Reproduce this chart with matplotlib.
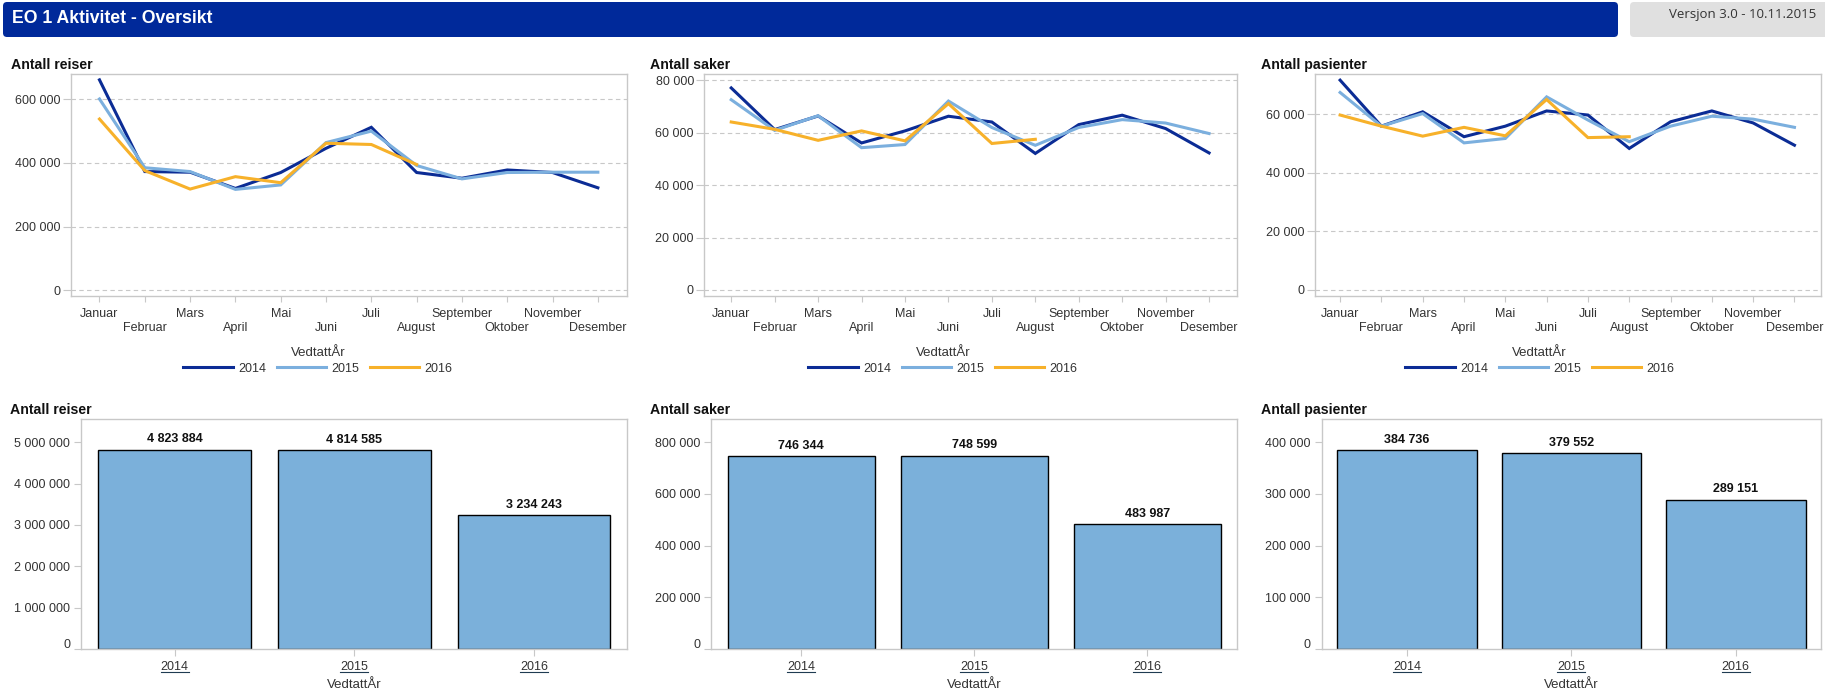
import matplotlib
matplotlib.use("Agg")
import matplotlib.pyplot as plt
from matplotlib.patches import FancyBboxPatch
from matplotlib.lines import Line2D
from matplotlib.transforms import IdentityTransform, ScaledTranslation
from matplotlib.ticker import FuncFormatter

plt.rcParams['font.family'] = ['Liberation Sans', 'DejaVu Sans']

# --- data ---
months = ['Januar', 'Februar', 'Mars', 'April', 'Mai', 'Juni', 'Juli',
          'August', 'September', 'Oktober', 'November', 'Desember']
years = ['2014', '2015', '2016']

reiser_2014 = [661000, 373000, 371000, 320000, 370000, 446000, 512000, 370000, 352000, 378000, 370000, 322000]
reiser_2015 = [601000, 385000, 373000, 317000, 331000, 464000, 500000, 392000, 350000, 370000, 371000, 371000]
reiser_2016 = [538000, 376000, 318000, 357000, 338000, 462000, 458000, 395000]

saker_2014 = [77100, 61200, 66400, 56100, 60700, 66300, 64100, 52100, 63100, 66700, 61600, 52300]
saker_2015 = [72600, 60900, 66500, 54300, 55500, 72100, 62000, 55200, 62000, 65000, 63700, 59700]
saker_2016 = [64100, 61300, 57100, 60700, 56900, 71100, 55900, 57500]

pasienter_2014 = [71600, 55900, 60800, 52300, 55900, 61100, 59700, 48300, 57400, 61100, 57000, 49400]
pasienter_2015 = [67400, 55900, 60200, 50200, 51700, 65900, 58000, 50600, 55900, 59300, 58300, 55500]
pasienter_2016 = [59700, 55900, 52500, 55500, 52600, 65000, 52000, 52300]

reiser_total = [4823884, 4814585, 3234243]
saker_total = [746344, 748599, 483987]
pasienter_total = [384736, 379552, 289151]

# --- style ---
W, H = 1825, 694
C2014, C2015, C2016 = '#0B2C95', '#7BAFDE', '#F7B12A'
BAR = '#7BB0DA'
GRID = '#C8C8C8'
TXT = '#333333'

fig = plt.figure(figsize=(W / 100, H / 100), dpi=100)
fig.patch.set_facecolor('white')


def px_axes(left, top, right, bottom):
    return fig.add_axes([left / W, 1 - bottom / H, (right - left) / W, (bottom - top) / H])


def fmt(v, _pos=None):
    return f"{v:,.0f}".replace(',', ' ')


def style_frame(ax):
    for s in ax.spines.values():
        s.set_color(GRID)
        s.set_linewidth(1)
    ax.set_facecolor('white')


# header
fig.add_artist(FancyBboxPatch((3, H - 37), 1615, 35, boxstyle='round,pad=0,rounding_size=4',
                              transform=IdentityTransform(), facecolor='#00299A', edgecolor='none'))
fig.add_artist(FancyBboxPatch((1630, H - 37), 200, 35, boxstyle='round,pad=0,rounding_size=4',
                              transform=IdentityTransform(), facecolor='#E0E0E0', edgecolor='none'))
fig.text(12 / W, 1 - 22.7 / H, 'EO 1 Aktivitet - Oversikt', color='white', fontsize=12.7,
         fontweight='bold', va='baseline', ha='left')
fig.text(1816 / W, 1 - 18.3 / H, 'Versjon 3.0 - 10.11.2015', color='#333333', fontsize=9.5,
         family=['Open Sans', 'DejaVu Sans'], va='baseline', ha='right')

# --- line charts ---
line_specs = [
    ('Antall reiser', 11, (71.4, 627.3), (reiser_2014, reiser_2015, reiser_2016),
     (-17900, 678500), [0, 200000, 400000, 600000], 317.8),
    ('Antall saker', 650.4, (704.3, 1237.3), (saker_2014, saker_2015, saker_2016),
     (-2300, 82300), [0, 20000, 40000, 60000, 80000], 942.8),
    ('Antall pasienter', 1261, (1314.5, 1821.3), (pasienter_2014, pasienter_2015, pasienter_2016),
     (-2050, 73600), [0, 20000, 40000, 60000], 1539.7),
]

for title, tx, (l, r), series, ylim, yticks, leg_cx in line_specs:
    ax = px_axes(l, 74.3, r, 296)
    style_frame(ax)
    for vals, c, lab in zip(series, (C2014, C2015, C2016), years):
        ax.plot(range(len(vals)), vals, color=c, lw=2.2, label=lab, solid_joinstyle='miter')
    ax.set_xlim(-0.62, 11.65)
    ax.set_ylim(*ylim)
    ax.set_yticks(yticks)
    ax.yaxis.set_major_formatter(FuncFormatter(fmt))
    ax.grid(axis='y', color=GRID, linestyle=(0, (4, 3)), linewidth=0.8)
    ax.set_axisbelow(True)
    ax.set_xticks(range(12))
    ax.set_xticklabels([m if i % 2 == 0 else '\n' + m for i, m in enumerate(months)])
    ax.tick_params(axis='x', length=4.3, width=0.8, color=GRID, pad=4.3, labelsize=9, labelcolor=TXT)
    ax.tick_params(axis='y', length=5.5, width=0.8, color=GRID, pad=2, labelsize=9, labelcolor=TXT)
    fig.text(tx / W, 1 - 69.3 / H, title, fontsize=10.2,
             fontweight='bold', color='#111111', va='baseline', ha='left')
    fig.text(leg_cx / W, 1 - 353 / H, 'VedtattÅr', fontsize=9.5, color=TXT, ha='center', va='center')
    ax.legend(loc='center', bbox_to_anchor=(leg_cx / W, 1 - 368.5 / H), bbox_transform=fig.transFigure,
              ncol=3, frameon=False, borderpad=0, handlelength=3.96, handletextpad=0.4,
              columnspacing=0.85, fontsize=9, labelcolor=TXT)

# --- bar charts ---
bar_specs = [
    ('Antall reiser', 10.5, (81.2, 627.3), reiser_total, 5556000,
     [0, 1000000, 2000000, 3000000, 4000000, 5000000]),
    ('Antall saker', 650.4, (711.2, 1237.3), saker_total, 889000, [0, 200000, 400000, 600000, 800000]),
    ('Antall pasienter', 1261, (1321.5, 1821.3), pasienter_total, 444500, [0, 100000, 200000, 300000, 400000]),
]

bar_axes = []
for title, tx, (l, r), totals, ytop, yticks in bar_specs:
    ax = px_axes(l, 419.3, r, 649)
    style_frame(ax)
    xs = range(len(years))
    ax.bar(xs, totals, width=0.85, color=BAR, edgecolor='black', linewidth=1)
    for x, v in zip(xs, totals):
        ax.annotate(fmt(v), (x, v), xytext=(0, 3), textcoords='offset points', ha='center',
                    va='bottom', fontsize=9, fontweight='bold', color='#111111')
    ax.set_xlim(-0.52, 2.52)
    ax.set_ylim(0, ytop)
    ax.set_yticks(yticks)
    ax.yaxis.set_major_formatter(FuncFormatter(fmt))
    ax.set_xticks(list(xs))
    ax.set_xticklabels(years)
    ax.tick_params(axis='x', length=4.8, width=0.8, color=GRID, pad=3.6, labelsize=9, labelcolor=TXT)
    ax.tick_params(axis='y', length=5, width=0.8, color=GRID, pad=3, labelsize=9, labelcolor=TXT)
    zero = ax.get_yticklabels()[0]
    zero.set_transform(zero.get_transform() + ScaledTranslation(0, 6 / 100, fig.dpi_scale_trans))
    fig.text(tx / W, 1 - 414 / H, title, fontsize=10.2, fontweight='bold', color='#111111',
             va='baseline', ha='left')
    fig.text((l + r) / 2 / W, 1 - 685 / H, 'VedtattÅr', fontsize=9.5, color=TXT, ha='center', va='center')
    bar_axes.append(ax)

# underline the year labels
fig.canvas.draw()
for ax in bar_axes:
    for lbl in ax.get_xticklabels():
        bb = lbl.get_window_extent()
        fig.add_artist(Line2D([bb.x0, bb.x1], [bb.y0 + 0.5, bb.y0 + 0.5], transform=IdentityTransform(),
                              color='#1F3B52', linewidth=0.8))

fig.savefig('out.png', dpi=100, facecolor='white')
